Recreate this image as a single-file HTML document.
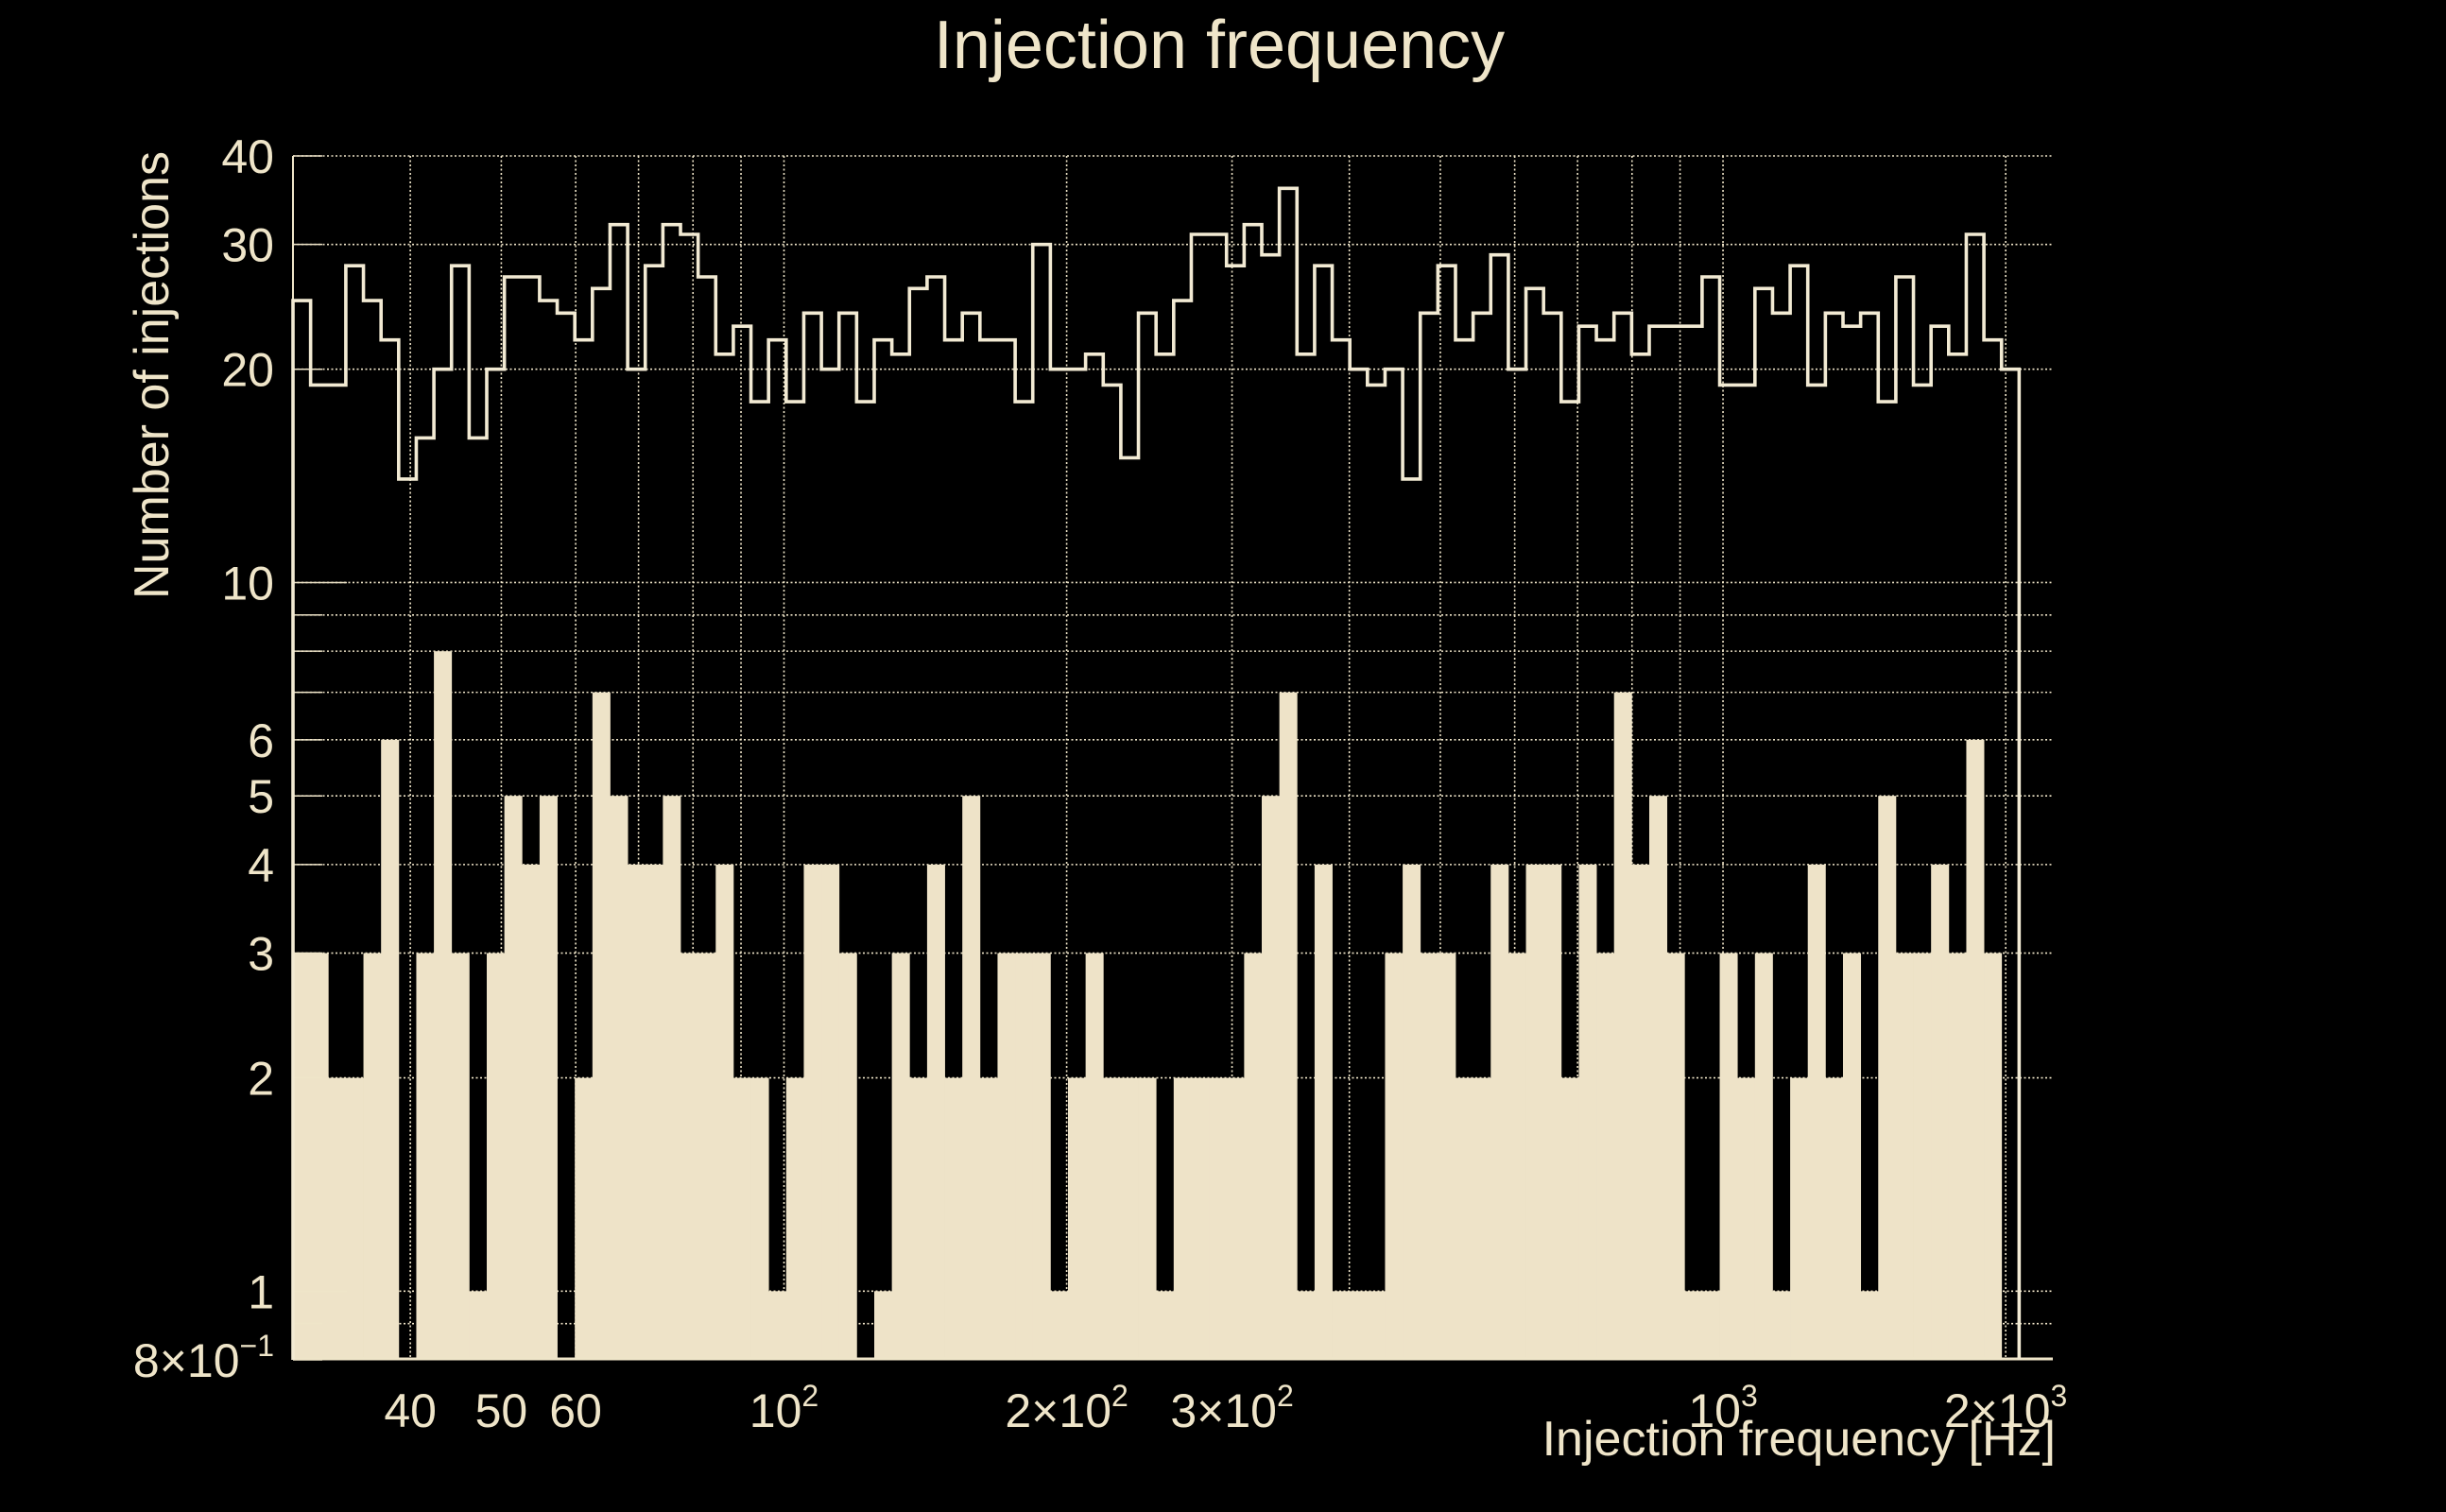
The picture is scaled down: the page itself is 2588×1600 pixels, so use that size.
<!DOCTYPE html>
<html>
<head>
<meta charset="utf-8">
<style>
  html,body{margin:0;padding:0;background:#000;}
  svg{display:block;}
  text{font-family:"Liberation Sans",sans-serif;fill:#EFE5C9;}
</style>
</head>
<body>
<svg id="chart" width="2588" height="1600" viewBox="0 0 2588 1600" xmlns="http://www.w3.org/2000/svg">
  <rect x="0" y="0" width="2588" height="1600" fill="#000"/>
  <g id="grid"></g>
  <g id="fillHist"></g>
  <g id="axes"></g>
  <g id="lineHist"></g>
  <g id="labels"></g>
  <text x="1290" y="72" font-size="72" text-anchor="middle">Injection frequency</text>
  <text x="2175" y="1540" font-size="52" text-anchor="end">Injection frequency [Hz]</text>
  <text transform="translate(178,160) rotate(-90)" font-size="52" text-anchor="end">Number of injections</text>
</svg>
<script>
// ---- data ----
const binLo = 30;
const binHi = 2067;
const lineCounts = [
  25,19,19,28,25,22,14,16,20,28,16,20,27,27,25,24,22,26,32,20,28,32,31,27,21,
  23,18,22,18,24,20,24,18,22,21,26,27,22,24,22,22,18,30,20,20,21,19,15,24,21,
  25,31,31,28,32,29,36,21,28,22,20,19,20,14,24,28,22,24,29,20,26,24,18,23,22,
  24,21,23,23,23,27,19,19,26,24,28,19,24,23,24,18,27,19,23,21,31,22,20
];
const fillCounts = [
  3,3,2,2,3,6,0,3,8,3,1,3,5,4,5,0,2,7,5,4,4,5,3,3,4,
  2,2,1,2,4,4,3,0,1,3,2,4,2,5,2,3,3,3,1,2,3,2,2,2,1,
  2,2,2,2,3,5,7,1,4,1,1,1,3,4,3,3,2,2,4,3,4,4,2,4,3,
  7,4,5,3,1,1,3,2,3,1,2,4,2,3,1,5,3,3,4,3,6,3,0
];
const xGridValues = [40,50,60,70,80,90,100,200,300,400,500,600,700,800,900,1000,2000];
const xTickValues = [40,50,60,100,200,300,1000,2000];
const xTickMain = ["40","50","60","10","2\u00d710","3\u00d710","10","2\u00d710"];
const xTickSup = ["","","","2","2","2","3","3"];
const yGridValues = [0.9,1,2,3,4,5,6,7,8,9,10,20,30,40];
const yTickValues = [40,30,20,10,6,5,4,3,2,1,0.8];
const yTickMain = ["40","30","20","10","6","5","4","3","2","1","8\u00d710"];
const yTickSup = ["","","","","","","","","","","\u22121"];

// ---- axes ----
const X0 = 310, X1 = 2172, Y0 = 165, Y1 = 1439;
const xMin = 30, xMax = 2245, yMin = 0.8, yMax = 40;
const COL = "#EFE5C9";
const NS = "http://www.w3.org/2000/svg";
function xs(f){ return X0 + (Math.log10(f) - Math.log10(xMin)) / (Math.log10(xMax) - Math.log10(xMin)) * (X1 - X0); }
function ys(v){ if (v <= yMin) return Y1; return Y1 - (Math.log10(v) - Math.log10(yMin)) / (Math.log10(yMax) - Math.log10(yMin)) * (Y1 - Y0); }
function edge(k, n){ return binLo * Math.pow(binHi / binLo, k / n); }
function mk(tag, attrs){ const e = document.createElementNS(NS, tag); for (const k in attrs) e.setAttribute(k, attrs[k]); return e; }

const grid = document.getElementById('grid');
xGridValues.forEach(function(f){
  const l = mk('line', {x1: xs(f), x2: xs(f), y1: Y0, y2: Y1, stroke: COL, 'stroke-width': 1.6, 'stroke-dasharray': '2 2.5'});
  
  
  grid.appendChild(l);
});
yGridValues.forEach(function(v){
  const l = mk('line', {x1: X0, x2: X1, y1: ys(v), y2: ys(v), stroke: COL, 'stroke-width': 1.6, 'stroke-dasharray': '2 2.5'});
  
  
  grid.appendChild(l);
});

// filled histogram
const fillG = document.getElementById('fillHist');
const nF = fillCounts.length;
fillCounts.forEach(function(c, i){
  if (c < yMin) return;
  const xa = xs(edge(i, nF)), xb = xs(edge(i + 1, nF));
  const r = mk('rect', {x: xa, y: ys(c), width: xb - xa + 0.4, height: Y1 - ys(c), fill: '#EEE3C8'});
  
  
  fillG.appendChild(r);
});

// axes
const axes = document.getElementById('axes');
const yAxis = mk('line', {x1: X0, x2: X0, y1: Y0, y2: Y1, stroke: COL, 'stroke-width': 2});


axes.appendChild(yAxis);
const xAxis = mk('line', {x1: X0, x2: X1, y1: Y1 - 1, y2: Y1 - 1, stroke: COL, 'stroke-width': 3});


axes.appendChild(xAxis);
yGridValues.concat([0.8]).forEach(function(v){
  const len = (v === 10 || v === 1) ? 57 : 31;
  const t = mk('line', {x1: X0, x2: X0 + len, y1: ys(v), y2: ys(v), stroke: COL, 'stroke-width': 1.5});
  
  
  axes.appendChild(t);
});

// line histogram
const lineG = document.getElementById('lineHist');
const nL = lineCounts.length;
let d = 'M' + xs(edge(0, nL)) + ',' + Y1;
lineCounts.forEach(function(c, i){
  const xa = xs(edge(i, nL)), xb = xs(edge(i + 1, nL));
  d += ' L' + xa + ',' + ys(c) + ' L' + xb + ',' + ys(c);
});
d += ' L' + xs(edge(nL, nL)) + ',' + Y1;
const path = mk('path', {d: d, fill: 'none', stroke: '#F2EAD3', 'stroke-width': 3.6, 'stroke-linejoin': 'miter'});


lineG.appendChild(path);

// tick labels
const labels = document.getElementById('labels');
xTickValues.forEach(function(f, i){
  const t = mk('text', {x: xs(f), y: 1510, 'font-size': 50, 'text-anchor': 'middle'});
  
  
  t.appendChild(document.createTextNode(xTickMain[i]));
  if (xTickSup[i]) {
    const s = mk('tspan', {'font-size': 32, dy: -22});
    s.textContent = xTickSup[i];
    t.appendChild(s);
  }
  labels.appendChild(t);
});
yTickValues.forEach(function(v, i){
  const t = mk('text', {x: 290, y: ys(v) + 18, 'font-size': 50, 'text-anchor': 'end'});
  
  
  t.appendChild(document.createTextNode(yTickMain[i]));
  if (yTickSup[i]) {
    const s = mk('tspan', {'font-size': 32, dy: -22});
    s.textContent = yTickSup[i];
    t.appendChild(s);
  }
  labels.appendChild(t);
});
</script>
</body>
</html>
